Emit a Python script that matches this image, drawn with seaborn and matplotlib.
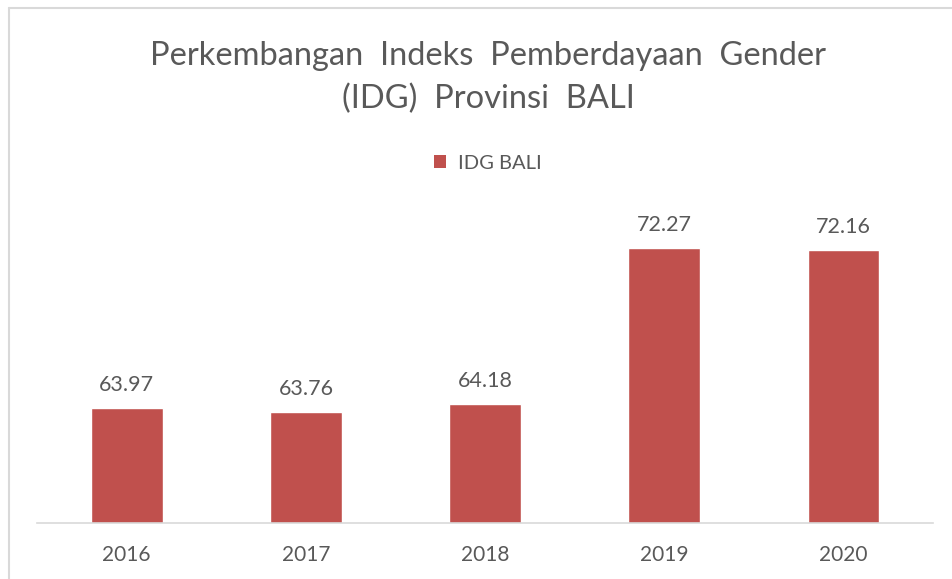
import matplotlib
matplotlib.use("Agg")
import matplotlib.pyplot as plt
from matplotlib.patches import Patch
from matplotlib.lines import Line2D
import seaborn as sns

# data
years = ["2016", "2017", "2018", "2019", "2020"]
idg_bali = [63.97, 63.76, 64.18, 72.27, 72.16]
series_name = "IDG BALI"
title = "Perkembangan  Indeks  Pemberdayaan  Gender\n(IDG)  Provinsi  BALI"

bar_color = "#C0504D"
text_color = "#595959"

sns.set_theme(style="white")
plt.rcParams["font.family"] = ["Lato", "DejaVu Sans"]

fig = plt.figure(figsize=(9.53, 5.79), dpi=100)
ax = fig.add_axes([0.039, 0.097, 0.94, 0.533])

sns.barplot(x=years, y=idg_bali, color=bar_color, width=0.4, saturation=1, ax=ax)
ax.set_ylim(58, 74)
ax.set_xlim(-0.5, len(years) - 0.5)

ax.bar_label(ax.containers[0], fmt="%.2f", padding=9, fontsize=15.5, color=text_color)

ax.set_yticks([])
ax.tick_params(axis="x", length=0, labelsize=15, labelcolor=text_color, pad=16)
for side in ["top", "left", "right"]:
    ax.spines[side].set_visible(False)
ax.spines["bottom"].set_color("#D9D9D9")
ax.spines["bottom"].set_linewidth(1.2)

# the chart area runs off the right edge, so its centre is a bit right of the image centre
center_x = 488 / 953
fig.text(center_x, 0.866, title, ha="center", va="center", fontsize=23.5,
         color=text_color, linespacing=1.55)

handle = Patch(facecolor=bar_color, edgecolor="none")
fig.legend([handle], [series_name], loc="center", bbox_to_anchor=(center_x, 0.718),
           frameon=False, fontsize=14.5, labelcolor=text_color,
           handlelength=0.6, handleheight=0.6, handletextpad=0.6)

# chart area border (left and top edges visible in the reference)
fig.add_artist(Line2D([9 / 953, 9 / 953], [0, 1 - 8 / 579], transform=fig.transFigure,
                      color="#D9D9D9", linewidth=1.5))
fig.add_artist(Line2D([9 / 953, 1], [1 - 8 / 579, 1 - 8 / 579], transform=fig.transFigure,
                      color="#D9D9D9", linewidth=1.5))

fig.savefig("out.png", dpi=100, facecolor="white")
